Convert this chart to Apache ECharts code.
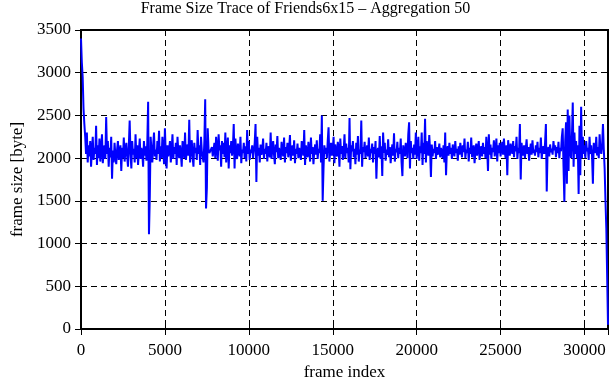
<!DOCTYPE html>
<html>
<head>
<meta charset="utf-8">
<script src="https://cdn.jsdelivr.net/npm/echarts@6/dist/echarts.min.js"></script>
<style>html,body{margin:0;padding:0;background:#fff;}#c{width:611px;height:380px;}</style>
</head>
<body>
<div id="c"></div>
<script>
const titleText = 'Frame Size Trace of Friends6x15 \u2013 Aggregation 50';
const xName = 'frame index';
const yName = 'frame size [byte]';
const aggregation = 50;
const xTicks = [0, 5000, 10000, 15000, 20000, 25000, 30000];
const yTicks = [0, 500, 1000, 1500, 2000, 2500, 3000, 3500];
const frameSizes = [
  3400, 3120, 2950, 2580, 2400, 2250, 2050, 2300, 1950, 2150, 2020, 2200, 1900, 2100, 2250, 1980, 2120, 2050, 2380, 1920,
  2150, 2000, 2230, 1960, 2100, 2280, 1940, 2080, 2150, 1990, 2480, 2050, 2200, 1900, 2120, 2010, 2250, 1760, 2090, 1950,
  2180, 2030, 1930, 2100, 2200, 1980, 2060, 2150, 1850, 2120, 2000, 2240, 1960, 2090, 2180, 2020, 1900, 2150, 2440, 2050,
  1880, 2200, 2040, 2110, 1950, 2280, 2000, 2150, 1920, 2080, 2230, 1990, 2120, 2060, 1900, 2200, 2030, 2140, 1970, 2180,
  2660, 1110, 1560, 2250, 2080, 1950, 2150, 2300, 2020, 2100, 1980, 2200, 2050, 2320, 1960, 2140, 2000, 2250, 2090, 1930,
  2350, 2050, 1880, 2150, 2020, 2100, 2200, 1950, 2080, 2280, 1990, 2130, 2050, 2180, 1920, 2250, 2070, 2000, 2150, 2060,
  1900, 2200, 2120, 2000, 2300, 1980, 2080, 2160, 2030, 2450, 1950, 2100, 2210, 2020, 1900, 2180, 2060, 2120, 1980, 2330,
  2050, 2150, 1920, 2250, 2080, 2010, 1950, 2200, 2690, 1410, 1650, 2350, 2100, 2060, 2080, 2040, 2130, 2020, 2100, 2180,
  2000, 2250, 2120, 1970, 2280, 2090, 2150, 1900, 2200, 2050, 2180, 2010, 2300, 1950, 2100, 2240, 1880, 2150, 2060, 2200,
  2030, 2120, 2400, 1880, 2230, 2050, 1990, 2170, 2090, 2020, 2250, 1940, 2100, 2060, 2180, 2000, 2140, 1960, 2330, 2050,
  2200, 1980, 2100, 2060, 2150, 2000, 2080, 2180, 2400, 1720, 2250, 2030, 2120, 1950, 2160, 2040, 2090, 2230, 1990, 2110,
  2050, 2180, 1960, 2140, 2080, 2010, 2300, 1990, 2100, 2200, 2040, 1930, 2160, 2070, 2260, 2000, 2120, 2050, 1980, 2190,
  2080, 2020, 2240, 1950, 2130, 2060, 2180, 2010, 2100, 2270, 1970, 2090, 2150, 2030, 2210, 1940, 2110, 2050, 2170, 2000,
  2120, 2060, 1980, 2200, 2090, 2030, 2330, 1920, 2150, 2070, 2010, 2190, 2100, 1960, 2240, 2050, 2130, 1930, 2080, 2160,
  2040, 2210, 1990, 2110, 2060, 2280, 1950, 2500, 1500, 1880, 2150, 2050, 2120, 2000, 2200, 2360, 1960, 2090, 2180, 2030,
  2100, 2250, 1940, 2160, 2070, 2020, 2190, 2110, 1900, 2230, 2050, 2140, 1980, 2080, 2280, 2000, 2170, 2060, 2120, 1950,
  2470, 1870, 2150, 2080, 2200, 2010, 2110, 1930, 2180, 2040, 2260, 1960, 2100, 2050, 2440, 1900, 2130, 2070, 2190, 2000,
  2090, 2150, 2020, 2240, 1980, 2110, 2060, 2170, 1950, 2130, 2050, 2200, 1760, 2080, 2120, 2010, 2260, 1990, 2140, 1790,
  2300, 2060, 2180, 1970, 2100, 2040, 2220, 2010, 2130, 1940, 2080, 2160, 2030, 2290, 1960, 2110, 2070, 2190, 2000, 2120,
  2050, 2230, 1950, 1790, 2150, 2080, 2020, 2180, 2100, 2000, 2280, 2420, 1880, 2200, 2060, 2120, 1990, 2160, 2040, 2300,
  1990, 2100, 2250, 1970, 2140, 2060, 2300, 1920, 2180, 2050, 2460, 1950, 2200, 2100, 2030, 2270, 2090, 1780, 2160, 2020,
  2110, 2060, 2200, 1990, 2130, 2040, 2080, 2170, 2010, 2120, 2060, 2000, 2150, 1950, 2300, 1800, 2090, 2140, 2030, 2180,
  2050, 2120, 1990, 2160, 2080, 2020, 2200, 2060, 2110, 1970, 2140, 2040, 2180, 2090, 2010, 2150, 2070, 2230, 2000, 2100,
  2060, 2190, 1960, 2120, 2050, 2240, 2010, 2100, 2150, 1940, 2080, 2170, 2030, 2110, 2200, 1980, 2090, 2140, 2020, 2180,
  2050, 2130, 2000, 2250, 2100, 1850, 2280, 2040, 2160, 1990, 2120, 2070, 2210, 2020, 2100, 2230, 1960, 2150, 2060, 2180,
  2020, 2110, 2190, 2040, 2230, 2070, 2000, 2150, 1800, 2210, 2090, 2030, 2170, 2100, 2050, 2200, 2010, 2140, 2080, 2250,
  1990, 2120, 2060, 2400, 1750, 2180, 2080, 2030, 2150, 2000, 2110, 2220, 2050, 2130, 1970, 2090, 2170, 2040, 2210, 2060,
  2100, 2030, 2150, 2070, 2190, 2010, 2120, 2060, 2240, 1990, 2100, 2140, 2050, 2180, 2400, 1610, 2080, 2130, 2020, 2160,
  2070, 2110, 2040, 2200, 2090, 2150, 2010, 2130, 2060, 2190, 2000, 2120, 2080, 2250, 2350, 1900, 1490, 2200, 2420, 1700,
  2570, 1850, 2500, 2100, 2000, 2250, 2650, 1900, 2300, 2050, 2200, 2000, 2150, 1580, 2380, 1800, 2600, 2000, 2250, 2050,
  2150, 2000, 2200, 2080, 2120, 1980, 2250, 2050, 2150, 2020, 1700, 2180, 2100, 2060, 2250, 2030, 2130, 2000, 2280, 2100,
  2050, 2150, 2400, 2100, 1880, 1500, 1180, 1200, 50
];

const seriesData = frameSizes.map((v, i) => [i * aggregation, v]);
const xMax = (frameSizes.length - 1) * aggregation;
const serif = 'Liberation Serif';
const fs = 17;

const chart = echarts.init(document.getElementById('c'), null, {renderer: 'canvas'});
const gridLine = {show: true, lineStyle: {color: '#000', type: [6, 4], width: 1}};
chart.setOption({
  animation: false,
  backgroundColor: '#fff',
  title: {
    text: titleText, left: 'center', top: 0, padding: [1, 5, 5, 5],
    textStyle: {fontFamily: serif, fontSize: 16, fontWeight: 'normal', color: '#000'}
  },
  grid: {left: 81, right: 3, top: 30, bottom: 51, show: true, borderColor: '#000', borderWidth: 2,
    backgroundColor: 'transparent', containLabel: false, outerBoundsMode: 'none'},
  xAxis: [{
    type: 'value', min: 0, max: xMax, interval: 5000,
    name: xName, nameLocation: 'middle', nameGap: 32,
    nameTextStyle: {fontFamily: serif, fontSize: fs, color: '#000'},
    axisLine: {show: true, lineStyle: {color: '#000', width: 2}},
    axisTick: {show: true, inside: true, length: 6, lineStyle: {color: '#000', width: 1}},
    axisLabel: {fontFamily: serif, fontSize: fs, color: '#000', margin: 13, showMaxLabel: false,
      formatter: v => xTicks.includes(v) ? String(v) : ''},
    splitLine: gridLine
  }, {
    type: 'value', min: 0, max: xMax, interval: 5000, position: 'top',
    axisLine: {show: true, lineStyle: {color: '#000', width: 2}},
    axisTick: {show: true, inside: true, length: 6, lineStyle: {color: '#000', width: 1}},
    axisLabel: {show: false}, splitLine: {show: false}
  }],
  yAxis: [{
    type: 'value', min: 0, max: 3500, interval: 500,
    name: yName, nameLocation: 'middle', nameGap: 54, nameRotate: 90,
    nameTextStyle: {fontFamily: serif, fontSize: fs, color: '#000'},
    axisLine: {show: true, lineStyle: {color: '#000', width: 2}},
    axisTick: {show: true, inside: true, length: 6, lineStyle: {color: '#000', width: 1}},
    axisLabel: {fontFamily: serif, fontSize: fs, color: '#000', margin: 10, padding: [6, 0, 0, 0],
      formatter: v => yTicks.includes(v) ? String(v) : ''},
    splitLine: gridLine
  }, {
    type: 'value', min: 0, max: 3500, interval: 500, position: 'right',
    axisLine: {show: true, lineStyle: {color: '#000', width: 2}},
    axisTick: {show: true, inside: true, length: 6, lineStyle: {color: '#000', width: 1}},
    axisLabel: {show: false}, splitLine: {show: false}
  }],
  series: [{
    type: 'line', data: seriesData, xAxisIndex: 0, yAxisIndex: 0,
    showSymbol: false, symbol: 'none',
    lineStyle: {color: '#0000ff', width: 2},
    sampling: null, z: 3
  }]
});
</script>
</body>
</html>
